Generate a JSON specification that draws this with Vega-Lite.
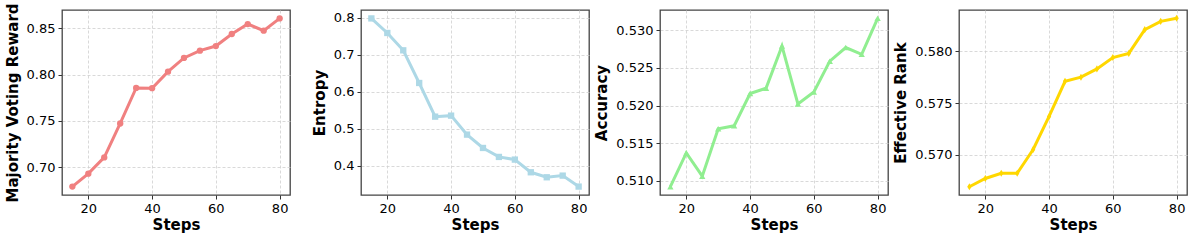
{
  "$schema": "https://vega.github.io/schema/vega-lite/v6.json",
  "padding": {"left": 4, "top": 2, "right": 0, "bottom": 0},
  "bounds": "flush",
  "spacing": 71,
  "background": "white",
  "data": {"values": [
    {"step": 15, "mvr": 0.6788, "ent": 0.798, "acc": 0.5092, "er": 0.5669},
    {"step": 20, "mvr": 0.6928, "ent": 0.7587, "acc": 0.5137, "er": 0.5677},
    {"step": 25, "mvr": 0.7104, "ent": 0.7119, "acc": 0.5106, "er": 0.5682},
    {"step": 30, "mvr": 0.7471, "ent": 0.6238, "acc": 0.5169, "er": 0.5682},
    {"step": 35, "mvr": 0.7856, "ent": 0.533, "acc": 0.5173, "er": 0.5705},
    {"step": 40, "mvr": 0.7853, "ent": 0.5357, "acc": 0.5216, "er": 0.5737},
    {"step": 45, "mvr": 0.8032, "ent": 0.4845, "acc": 0.5223, "er": 0.5771},
    {"step": 50, "mvr": 0.818, "ent": 0.4485, "acc": 0.5279, "er": 0.5775},
    {"step": 55, "mvr": 0.8259, "ent": 0.4243, "acc": 0.5202, "er": 0.5783},
    {"step": 60, "mvr": 0.8309, "ent": 0.4171, "acc": 0.5218, "er": 0.5794},
    {"step": 65, "mvr": 0.8439, "ent": 0.3829, "acc": 0.5259, "er": 0.5798},
    {"step": 70, "mvr": 0.8547, "ent": 0.3694, "acc": 0.5277, "er": 0.5821},
    {"step": 75, "mvr": 0.8475, "ent": 0.3739, "acc": 0.5268, "er": 0.5829},
    {"step": 80, "mvr": 0.8608, "ent": 0.3443, "acc": 0.5316, "er": 0.5832}
  ]},
  "config": {
    "view": {"stroke": "#444", "strokeWidth": 1.3},
    "axis": {
      "domain": false,
      "labelFont": "DejaVu Sans", "labelFontSize": 13, "labelColor": "#000",
      "titleFont": "DejaVu Sans", "titleFontSize": 15, "titleFontWeight": "bold", "titleColor": "#000",
      "tickColor": "#333", "tickSize": 4, "tickWidth": 1,
      "grid": true, "gridColor": "#cfcfcf", "gridDash": [3, 2], "gridWidth": 0.8
    },
    "axisX": {"labelPadding": 3, "titlePadding": 2},
    "axisY": {"labelPadding": 3, "titlePadding": 6}
  },
  "hconcat": [
    {
      "width": 228, "height": 185,
      "mark": {"type": "line", "color": "#F08080", "strokeWidth": 3, "point": {"shape": "circle", "size": 40, "filled": true, "color": "#F08080", "opacity": 1}},
      "encoding": {
        "x": {"field": "step", "type": "quantitative", "scale": {"domain": [11.75, 83.25], "nice": false, "zero": false}, "axis": {"values": [20, 40, 60, 80], "format": "d", "title": "Steps"}},
        "y": {"field": "mvr", "type": "quantitative", "scale": {"domain": [0.6697, 0.8699], "nice": false, "zero": false}, "axis": {"values": [0.70, 0.75, 0.80, 0.85], "format": ".2f", "title": "Majority Voting Reward"}}
      }
    },
    {
      "width": 228, "height": 185,
      "mark": {"type": "line", "color": "#ADD8E6", "strokeWidth": 3, "point": {"shape": "square", "size": 40, "filled": true, "color": "#ADD8E6", "opacity": 1}},
      "encoding": {
        "x": {"field": "step", "type": "quantitative", "scale": {"domain": [11.75, 83.25], "nice": false, "zero": false}, "axis": {"values": [20, 40, 60, 80], "format": "d", "title": "Steps"}},
        "y": {"field": "ent", "type": "quantitative", "scale": {"domain": [0.3216, 0.8207], "nice": false, "zero": false}, "axis": {"values": [0.4, 0.5, 0.6, 0.7, 0.8], "format": ".1f", "title": "Entropy"}}
      }
    },
    {
      "width": 228, "height": 185,
      "mark": {"type": "line", "color": "#90EE90", "strokeWidth": 3, "point": {"shape": "triangle-up", "size": 40, "filled": true, "color": "#90EE90", "opacity": 1}},
      "encoding": {
        "x": {"field": "step", "type": "quantitative", "scale": {"domain": [11.75, 83.25], "nice": false, "zero": false}, "axis": {"values": [20, 40, 60, 80], "format": "d", "title": "Steps"}},
        "y": {"field": "acc", "type": "quantitative", "scale": {"domain": [0.5081, 0.5327], "nice": false, "zero": false}, "axis": {"values": [0.510, 0.515, 0.520, 0.525, 0.530], "format": ".3f", "title": "Accuracy"}}
      }
    },
    {
      "width": 228, "height": 185,
      "mark": {"type": "line", "color": "#FFD700", "strokeWidth": 3, "point": {"shape": "M0,-1L0.6,0L0,1L-0.6,0Z", "size": 50, "filled": true, "color": "#FFD700", "opacity": 1}},
      "encoding": {
        "x": {"field": "step", "type": "quantitative", "scale": {"domain": [11.75, 83.25], "nice": false, "zero": false}, "axis": {"values": [20, 40, 60, 80], "format": "d", "title": "Steps"}},
        "y": {"field": "er", "type": "quantitative", "scale": {"domain": [0.5661, 0.5840], "nice": false, "zero": false}, "axis": {"values": [0.570, 0.575, 0.580], "format": ".3f", "title": "Effective Rank"}}
      }
    }
  ]
}
